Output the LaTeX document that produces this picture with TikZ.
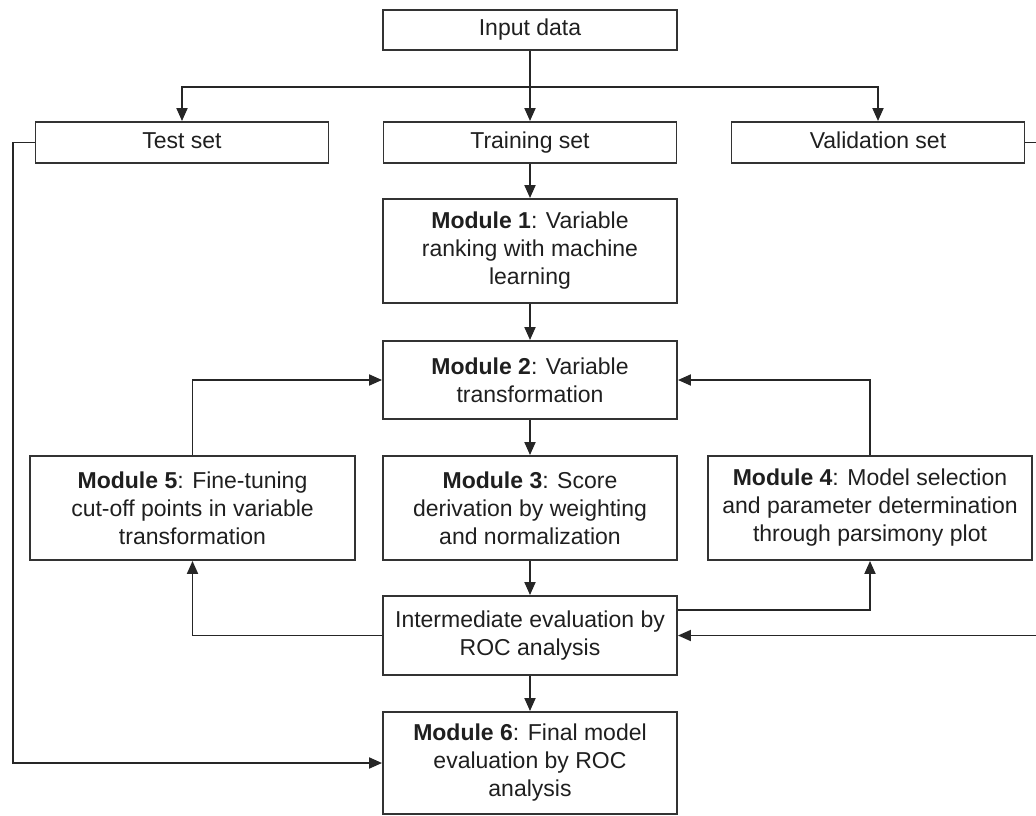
\documentclass[tikz,border=0pt]{standalone}
\usepackage{fontspec}
\setmainfont{Liberation Sans}
\usetikzlibrary{arrows.meta}

\tikzset{
  box/.style={draw=black!80, line width=1.9pt, text=black!88, align=center,
    inner sep=0pt, font=\fontsize{23}{28}\selectfont},
  flow/.style={draw=black!85, line width=1.9pt, -{Triangle[length=13pt,width=11pt]}},
  link/.style={draw=black!85, line width=1.9pt}
}

\begin{document}
\begin{tikzpicture}[x=1pt, y=-1pt]
  \useasboundingbox (0,0) rectangle (1036,816);

  \node[box, minimum width=294, minimum height=40] (inp) at (530,30) {\strut Input data};

  \node[box, minimum width=293, minimum height=41] (test)  at (182,142.5) {\strut Test set};
  \node[box, minimum width=293, minimum height=41] (train) at (530,142.5) {\strut Training set};
  \node[box, minimum width=293, minimum height=41] (valid) at (878,142.5) {\strut Validation set};

  \node[box, minimum width=294, minimum height=104] (m1) at (530,251)
    {\textbf{Module 1}: Variable\\ranking with machine\\learning};
  \node[box, minimum width=294, minimum height=78] (m2) at (530,380)
    {\textbf{Module 2}: Variable\\transformation};

  \node[box, minimum width=325, minimum height=104] (m5) at (192.5,508)
    {\textbf{Module 5}: Fine-tuning\\cut-off points in variable\\transformation};
  \node[box, minimum width=294, minimum height=104] (m3) at (530,508)
    {\textbf{Module 3}: Score\\derivation by weighting\\and normalization};
  \node[box, minimum width=324, minimum height=104] (m4) at (870,508)
    {\textbf{Module 4}: Model selection\\and parameter determination\\through parsimony plot};

  \node[box, minimum width=294, minimum height=79] (inter) at (530,635.5)
    {Intermediate evaluation by\\ROC analysis};
  \node[box, minimum width=294, minimum height=102] (m6) at (530,763)
    {\textbf{Module 6}: Final model\\evaluation by ROC\\analysis};

  % splitting the data
  \coordinate (split) at (530,87);
  \draw[link] (inp) -- (split);
  \draw[flow] (split) -- (train);
  \draw[flow] (split) -| (test);
  \draw[flow] (split) -| (valid);

  % main chain
  \draw[flow] (train) -- (m1);
  \draw[flow] (m1) -- (m2);
  \draw[flow] (m2) -- (m3);
  \draw[flow] (m3) -- (inter);
  \draw[flow] (inter) -- (m6);

  % feedback loops
  \draw[flow] (m5.north) |- (m2.west);
  \draw[flow] (m4.north) |- (m2.east);
  \draw[flow] (inter.west) -| (m5.south);
  \draw[flow] (inter.east |- 0,610) -| (m4.south);

  % test and validation paths
  \coordinate (tl) at (13,142.5);
  \draw[flow] (test.west) -- (tl) |- (m6.west);
  \coordinate (vr) at (1042,142.5);
  \draw[flow] (valid.east) -- (vr) |- (inter.east);
\end{tikzpicture}
\end{document}
